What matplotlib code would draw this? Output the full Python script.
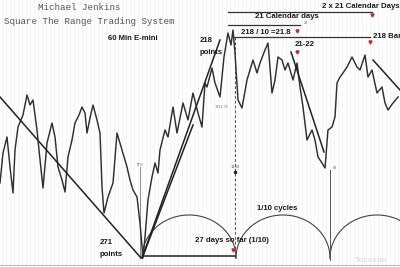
import numpy as np
import matplotlib.pyplot as plt

# 60 min E-mini price path (bar index, price in points above chart base)
bars = [0, 3, 7, 10, 13, 15, 18, 23, 27, 30, 33, 37, 39, 43, 47, 52, 55, 58, 62, 65,
        68, 72, 75, 79, 82, 85, 87, 90, 93, 97, 100, 102, 104, 108, 113, 117, 122, 127,
        130, 133, 137, 140, 143, 145, 148, 152, 155, 158, 160, 165, 168, 173, 177, 183,
        188, 193, 198, 202, 205, 207, 212, 215, 220, 224, 228, 231, 233, 235, 238, 242,
        247, 253, 257, 260, 265, 268, 272, 275, 278, 282, 285, 288, 293, 297, 300, 303,
        307, 312, 315, 318, 322, 325, 328, 332, 335, 337, 340, 343, 347, 352, 357, 360,
        365, 368, 372, 377, 382, 385, 388, 393, 398]
price = [117, 147, 163, 133, 107, 150, 173, 185, 205, 195, 200, 170, 150, 112, 157,
         177, 163, 133, 120, 108, 143, 160, 177, 185, 193, 187, 167, 182, 195, 180,
         167, 113, 87, 103, 117, 167, 150, 133, 120, 110, 103, 77, 42, 63, 100, 123,
         137, 127, 150, 170, 163, 193, 167, 197, 180, 207, 187, 173, 217, 213, 232,
         217, 203, 243, 267, 255, 270, 247, 200, 192, 220, 240, 227, 237, 250, 257,
         207, 220, 243, 240, 230, 237, 220, 237, 213, 193, 160, 170, 160, 143, 137,
         132, 170, 173, 183, 217, 223, 227, 233, 243, 233, 230, 245, 223, 230, 207,
         213, 197, 190, 197, 203]

# trend lines (bar, price) pairs
trend_lines = [
    ([0, 141], [203, 42]),
    ([142, 220], [42, 260]),
    ([143, 193], [44, 175]),
    ([291, 324], [248, 148]),
    ([373, 400], [240, 210]),
]

cycle_starts = [142, 236, 330]
cycle_len = 94
cycle_height = 43
base = 42

fig = plt.figure(figsize=(4, 2.67), dpi=100)
ax = fig.add_axes([0, 0, 1, 1])
ax.set_xlim(0, 400)
ax.set_ylim(33, 300)
ax.axis('off')

# faint vertical grid of the chart background
for gx in np.arange(2, 400, 4):
    ax.axvline(gx, color='#f1f1f1', lw=0.5, zorder=0)

ax.plot(bars, price, color='#303030', lw=1.05, zorder=3)

for xs, ys in trend_lines:
    ax.plot(xs, ys, color='#222222', lw=1.1, zorder=4)

# 1/10 cycle arcs
t = np.linspace(0, np.pi, 120)
for cs in cycle_starts:
    cx = cs + cycle_len / 2
    ax.plot(cx - np.cos(t) * cycle_len / 2, base + np.sin(t) * cycle_height,
            color='#444444', lw=0.8, zorder=2)

# vertical markers
ax.plot([235, 235], [263, 42], color='#555555', lw=0.7, ls=(0, (3, 2)), zorder=2)
ax.plot([140, 140], [133, 42], color='#777777', lw=0.6, zorder=2)
ax.plot([330, 330], [130, 40], color='#555555', lw=0.7, zorder=2)
ax.plot([235], [128], 'o', color='#222222', ms=1.5)
ax.text(235, 133, '1130', fontsize=2.6, color='#555555', ha='center', va='center')
ax.text(140, 135, '\u2207 \u00ae', fontsize=2.6, color='#666666', ha='center', va='center')
ax.text(222, 193, '1231.75', fontsize=2.4, color='#666666', ha='center', va='center')
ax.text(335, 132, '63', fontsize=2.4, color='#666666', ha='center', va='center')

# bottom axis
ax.axhline(35, color='#bbbbbb', lw=0.8)

# horizontal count lines
ax.plot([143, 235], [44, 44], color='#222222', lw=1.1, zorder=4)
ax.plot([228, 372], [288, 288], color='#333333', lw=0.9)
ax.plot([228, 300], [275, 275], color='#333333', lw=0.9)
ax.plot([233, 370], [263, 263], color='#333333', lw=0.9)

red = '#b03030'
ax.plot([372, 297, 370, 297, 233], [285, 269, 258, 248, 50], 'v', color=red, ms=2.2)

bold = dict(family='Liberation Sans', weight='bold', fontsize=5.6, color='#1a1a1a')
ax.text(108, 262, '60 Min E-mini', ha='left', va='center', **bold)
ax.text(200, 260, '218', ha='left', va='center', **bold)
ax.text(200, 248, 'points', ha='left', va='center', **bold)
ax.text(322, 294, '2 x 21 Calendar Days', ha='left', va='center', **bold)
ax.text(255, 283, '21 Calendar days', ha='left', va='center', **bold)
ax.text(241, 268, '218 / 10 =21.8', ha='left', va='center', **bold)
ax.text(373, 263, '218 Bars', ha='left', va='center', **bold)
ax.text(295, 255, '21-22', ha='left', va='center', **bold)
ax.text(100, 57, '271', ha='left', va='center', **bold)
ax.text(100, 46, 'points', ha='left', va='center', **bold)
ax.text(195, 59, '27 days so far (1/10)', ha='left', va='center', **bold)
ax.text(257, 92, '1/10 cycles', ha='left', va='center', **bold)
ax.text(304, 277, '21', fontsize=2.6, color='#666666', ha='left', va='center')

mono = dict(family='Liberation Mono', fontsize=6.6, color='#555555')
ax.text(79, 293, 'Michael Jenkins', ha='center', va='center', **mono)
ax.text(89, 279, 'Square The Range Trading System', ha='center', va='center', **mono)
ax.text(371, 40, 'Totoson', ha='center', va='center', family='Liberation Mono',
        fontsize=5.5, color='#d0d0d0')

fig.savefig('out.png', dpi=100)
